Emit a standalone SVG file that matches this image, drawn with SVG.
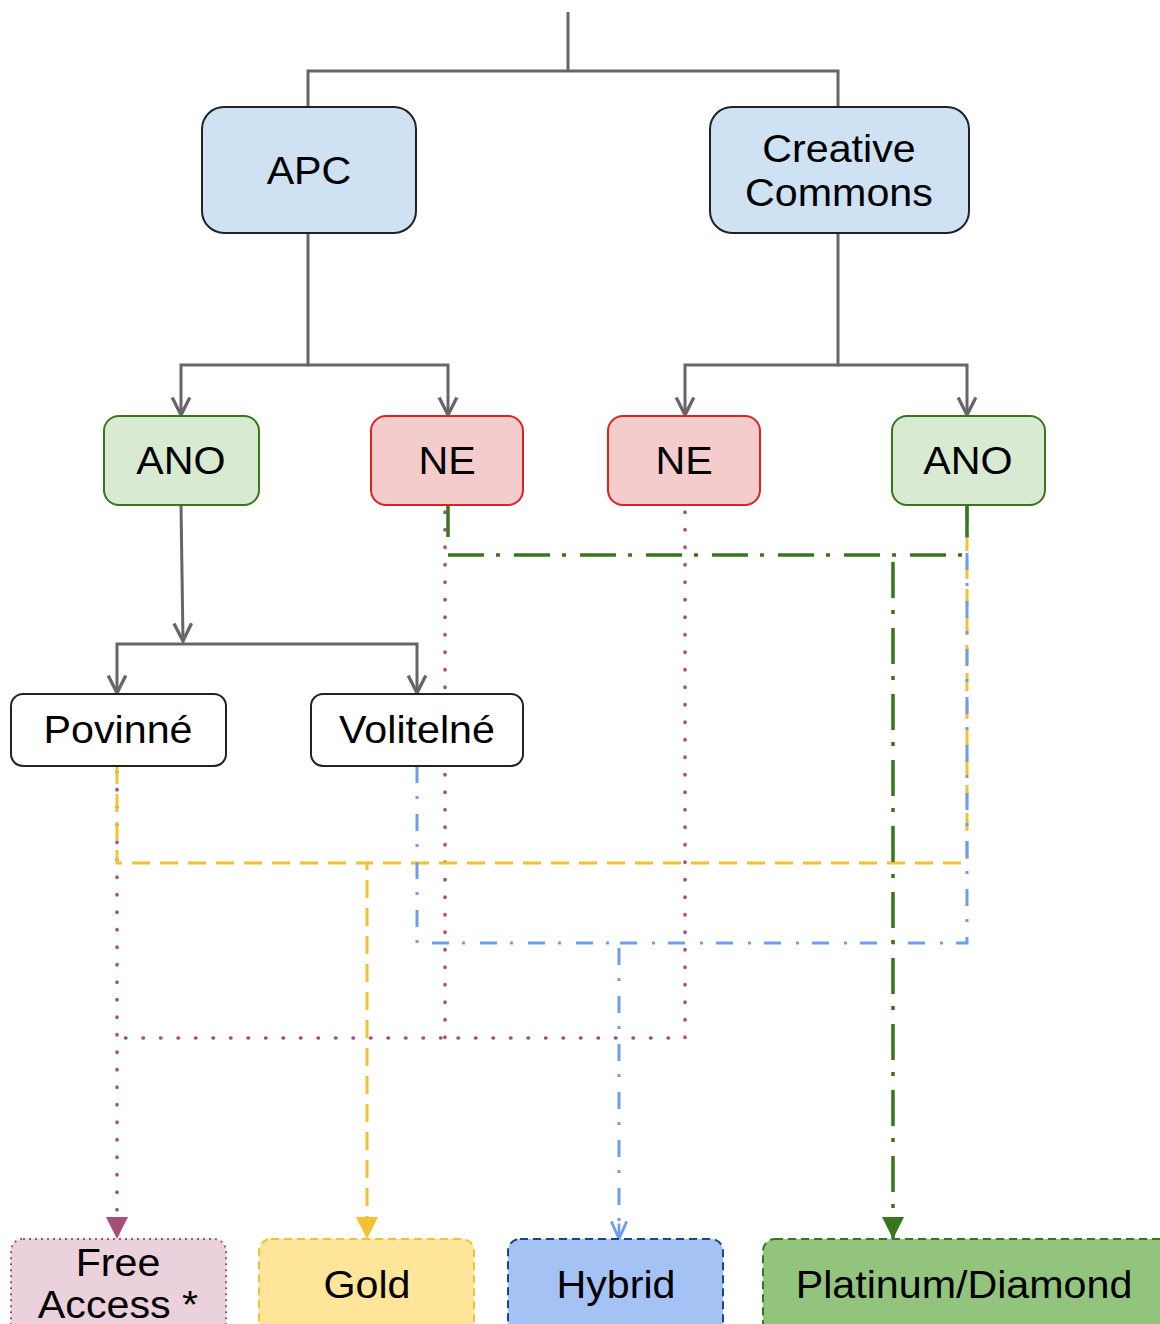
<svg xmlns="http://www.w3.org/2000/svg" width="1160" height="1324" viewBox="0 0 1160 1324">
<defs>
<style>
text{font-family:"Liberation Sans",Arial,sans-serif;font-size:38px;fill:#000;text-anchor:middle}
.g{fill:none;stroke:#666;stroke-width:3}
.mag{fill:none;stroke:#a64d79;stroke-width:3.5;stroke-linecap:round;stroke-dasharray:0.5 17}
.yel{fill:none;stroke:#f1c232;stroke-width:3;stroke-dasharray:18 10}
.grn{fill:none;stroke:#38761d;stroke-width:3.5;stroke-dasharray:36 12 4 14}
.blu{fill:none;stroke:#6d9eeb;stroke-width:3;stroke-dasharray:17 13 3 15}
.top{fill:#cfe2f3;stroke:#222;stroke-width:2}
.ano{fill:#d9ead3;stroke:#38761d;stroke-width:2}
.ne{fill:#f4cccc;stroke:#dd2222;stroke-width:2}
.wh{fill:#fff;stroke:#222;stroke-width:2}
</style>
<marker id="ag" markerUnits="userSpaceOnUse" viewBox="0 0 20 20" markerWidth="22" markerHeight="22" refX="18" refY="10" orient="auto"><path d="M2,2 L18,10 L2,18" fill="none" stroke="#666" stroke-width="3"/></marker>
<marker id="ab" markerUnits="userSpaceOnUse" viewBox="0 0 20 20" markerWidth="22" markerHeight="22" refX="18" refY="10" orient="auto"><path d="M2,3 L18,10 L2,17 M4,10 H18" fill="none" stroke="#6d9eeb" stroke-width="2.5"/></marker>
<marker id="am" markerUnits="userSpaceOnUse" viewBox="0 0 20 20" markerWidth="22" markerHeight="22" refX="20" refY="10" orient="auto"><path d="M0,0 L20,10 L0,20 Z" fill="#a64d79"/></marker>
<marker id="ay" markerUnits="userSpaceOnUse" viewBox="0 0 20 20" markerWidth="22" markerHeight="22" refX="20" refY="10" orient="auto"><path d="M0,0 L20,10 L0,20 Z" fill="#f1c232"/></marker>
<marker id="agr" markerUnits="userSpaceOnUse" viewBox="0 0 20 20" markerWidth="22" markerHeight="22" refX="20" refY="10" orient="auto"><path d="M0,0 L20,10 L0,20 Z" fill="#38761d"/></marker>
</defs>

<g id="connectors">
<path class="g" d="M568,12 V71"/>
<path class="g" d="M308,107 V71 H838 V107"/>
<path class="g" d="M308,233 V365 H181 V415" marker-end="url(#ag)"/>
<path class="g" d="M308,365 H448 V415" marker-end="url(#ag)"/>
<path class="g" d="M838,233 V365 H685 V415" marker-end="url(#ag)"/>
<path class="g" d="M838,365 H967 V415" marker-end="url(#ag)"/>
<path class="g" d="M181,505 L183,641" marker-end="url(#ag)"/>
<path class="g" d="M183,644 H117 V693" marker-end="url(#ag)"/>
<path class="g" d="M183,644 H417 V693" marker-end="url(#ag)"/>

<path class="mag" d="M445,512 V1038"/>
<path class="mag" d="M685,512 V1038 H117"/>
<path class="mag" d="M117,772 V1239" marker-end="url(#am)"/>

<path class="yel" d="M117,766 V863 H367 V1239" marker-end="url(#ay)"/>
<path class="yel" d="M967,505 V863 H367"/>

<path class="blu" d="M417,766 V943 H619 V1239" marker-end="url(#ab)"/>
<path class="blu" d="M967,505 V943 H619"/>

<path fill="none" stroke="#38761d" stroke-width="3.5" d="M448,505 V537 M967,505 V537"/>
<path class="grn" d="M448,555 H962"/>
<path class="grn" d="M893,562 V1239" marker-end="url(#agr)"/>
</g>

<g id="apc"><rect class="top" x="202" y="107" width="214" height="126" rx="22"/><text transform="translate(309,184) scale(1.085,1)">APC</text></g>
<g id="cc"><rect class="top" x="710" y="107" width="259" height="126" rx="22"/><text transform="translate(839,162) scale(1.085,1)">Creative</text><text transform="translate(839,206) scale(1.085,1)">Commons</text></g>
<g id="ano1"><rect class="ano" x="104" y="416" width="155" height="89" rx="15"/><text transform="translate(181,474) scale(1.085,1)">ANO</text></g>
<g id="ne1"><rect class="ne" x="371" y="416" width="152" height="89" rx="15"/><text transform="translate(447,474) scale(1.085,1)">NE</text></g>
<g id="ne2"><rect class="ne" x="608" y="416" width="152" height="89" rx="15"/><text transform="translate(684,474) scale(1.085,1)">NE</text></g>
<g id="ano2"><rect class="ano" x="892" y="416" width="153" height="89" rx="15"/><text transform="translate(968,474) scale(1.085,1)">ANO</text></g>
<g id="povinne"><rect class="wh" x="11" y="694" width="215" height="72" rx="12"/><text transform="translate(118,743) scale(1.085,1)">Povinné</text></g>
<g id="volitelne"><rect class="wh" x="311" y="694" width="212" height="72" rx="12"/><text transform="translate(417,743) scale(1.085,1)">Volitelné</text></g>
<g id="free"><rect x="11" y="1239" width="215" height="100" rx="12" fill="#ead1dc" stroke="#a64d79" stroke-width="2" stroke-dasharray="2 4"/><text transform="translate(118,1276) scale(1.085,1)">Free</text><text transform="translate(118,1318) scale(1.085,1)">Access *</text></g>
<g id="gold"><rect x="259" y="1239" width="215" height="100" rx="12" fill="#ffe599" stroke="#f1c232" stroke-width="2" stroke-dasharray="8 5"/><text transform="translate(367,1298) scale(1.085,1)">Gold</text></g>
<g id="hybrid"><rect x="508" y="1239" width="215" height="100" rx="12" fill="#a4c2f4" stroke="#1c4587" stroke-width="2" stroke-dasharray="8 5"/><text transform="translate(616,1298) scale(1.085,1)">Hybrid</text></g>
<g id="platinum"><rect x="763" y="1239" width="420" height="100" rx="12" fill="#93c47d" stroke="#38761d" stroke-width="2" stroke-dasharray="8 5"/><text transform="translate(964,1298) scale(1.085,1)">Platinum/Diamond</text></g>
</svg>
